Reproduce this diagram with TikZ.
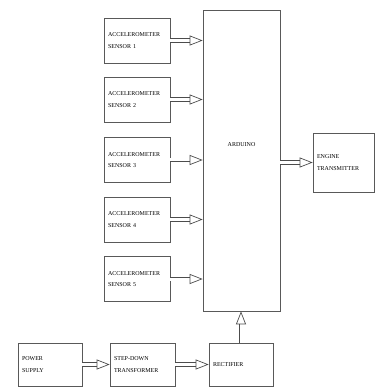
\documentclass[tikz,border=0pt]{standalone}
\usepackage{fontspec}
\setmainfont{Liberation Serif}
\usetikzlibrary{arrows.meta}
\tikzset{
  blk/.style={draw=black!65, line width=0.7pt, font=\fontsize{6}{11.5}\selectfont,
    align=left, inner xsep=4pt, inner ysep=0pt},
  feed/.style={draw=black!70, line width=0.7pt, double, double distance=3pt,
    -{Triangle[open, length=13pt, width=10pt]}}
}
\begin{document}
\begin{tikzpicture}[x=1pt, y=-1pt]
  \useasboundingbox (0,0) rectangle (375,387);
  % sensors
  \foreach \i/\y in {1/40.5,2/99.5,3/160,4/219.5,5/279}
    \node[blk, minimum width=66pt, minimum height=45pt, text width=58pt] (s\i) at (137,\y)
      {ACCELEROMETER\\SENSOR \i};
  \node[blk, minimum width=77pt, minimum height=301pt,
    label={[font=\fontsize{6}{11.5}\selectfont, yshift=16pt]center:ARDUINO}] (ard) at (241.5,160.5) {};
  \node[blk, minimum width=61pt, minimum height=59pt, text width=53pt] (eng) at (343.5,162.5)
    {ENGINE\\TRANSMITTER};
  % supply chain
  \node[blk, minimum width=64pt, minimum height=43pt, text width=56pt] (pwr) at (50,364.5)
    {POWER\\SUPPLY};
  \node[blk, minimum width=65pt, minimum height=43pt, text width=57pt] (stp) at (142.5,364.5)
    {STEP-DOWN\\TRANSFORMER};
  \node[blk, minimum width=64pt, minimum height=43pt, text width=56pt] (rct) at (241,364.5)
    {RECTIFIER};
  % connectors
  \foreach \i in {1,...,5}
    \draw[feed] (s\i.east) -- (s\i.east -| ard.west);
  \draw[feed] (ard.east |- eng.west) -- (eng.west);
  \draw[feed] (pwr) -- (stp);
  \draw[feed] (stp) -- (rct);
  \draw[feed] (rct.north) -- (rct.north |- ard.south);
\end{tikzpicture}
\end{document}
